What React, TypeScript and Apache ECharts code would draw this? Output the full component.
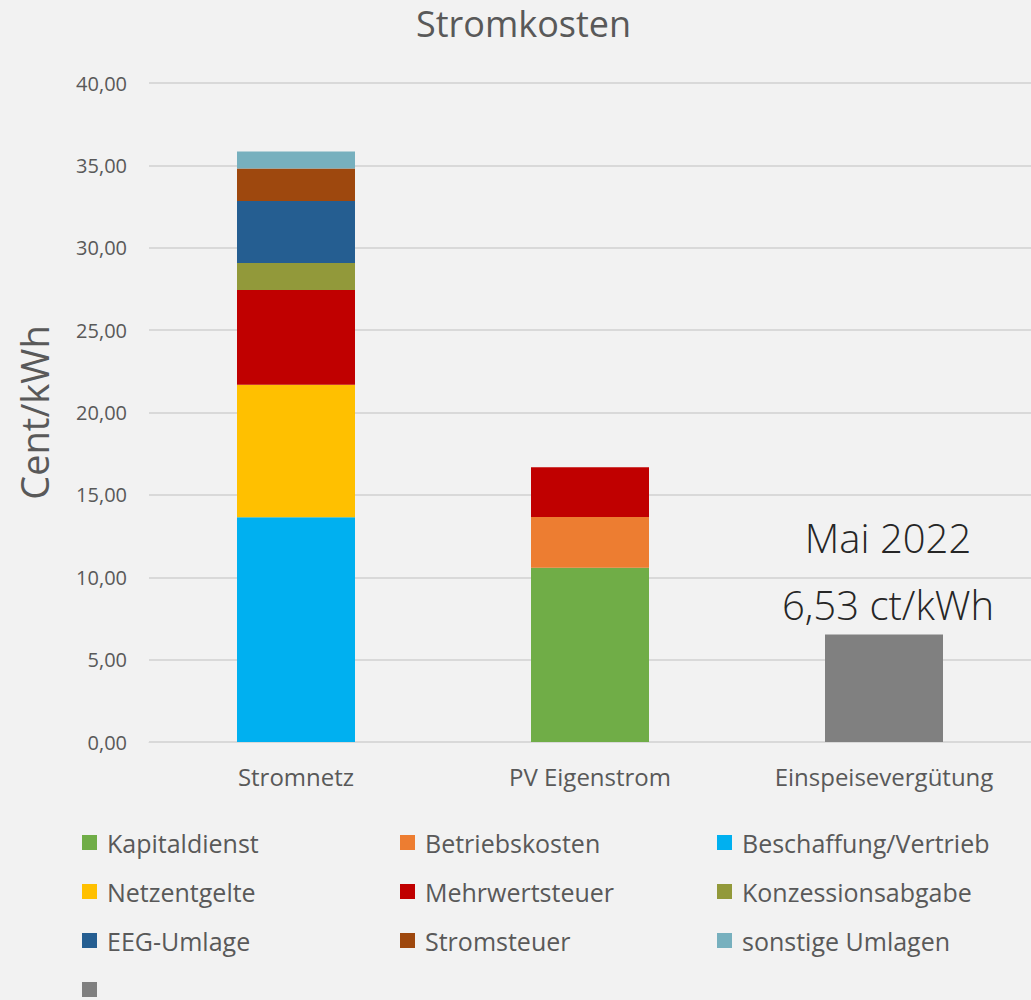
import React, { useEffect, useRef } from "react";
import * as echarts from "echarts";

const categories = ["Stromnetz", "PV Eigenstrom", "Einspeisevergütung"];
const seriesNames = [
  "Kapitaldienst",
  "Betriebskosten",
  "Beschaffung/Vertrieb",
  "Netzentgelte",
  "Mehrwertsteuer",
  "Konzessionsabgabe",
  "EEG-Umlage",
  "Stromsteuer",
  "sonstige Umlagen",
  " ",
];
const kapitaldienst = [null, 10.57, null];
const betriebskosten = [null, 3.09, null];
const beschaffung = [13.64, null, null];
const netzentgelte = [8.05, null, null];
const mehrwertsteuer = [5.74, 3.01, null];
const konzession = [1.64, null, null];
const eeg = [3.77, null, null];
const stromsteuer = [1.97, null, null];
const sonstige = [1.03, null, null];
const einspeisung = [null, null, 6.53];
const annotationTitle = "Mai 2022";
const yTicks = { min: 0, max: 40, interval: 5 };

const seriesData = [
  kapitaldienst,
  betriebskosten,
  beschaffung,
  netzentgelte,
  mehrwertsteuer,
  konzession,
  eeg,
  stromsteuer,
  sonstige,
  einspeisung,
];
const colors = [
  "#70AD47",
  "#ED7D31",
  "#00B0F0",
  "#FFC000",
  "#C00000",
  "#92993A",
  "#255E91",
  "#9E480E",
  "#77B0BE",
  "#808080",
];

const fmt = (v: number) => v.toFixed(2).replace(".", ",");

export default function App() {
  const ref = useRef<HTMLDivElement>(null);
  useEffect(() => {
    if (!ref.current) return;
    const chart = echarts.init(ref.current, null, { renderer: "svg" });
    const font = "'Open Sans', 'Noto Sans', sans-serif";
    const colX = [82, 400, 717];
    const rowY = [830, 879, 928, 977];
    const legends = seriesNames.map((name, i) => ({
      data: [name],
      left: colX[i % 3],
      top: rowY[Math.floor(i / 3)],
      icon: "rect",
      itemWidth: 15,
      itemHeight: 15,
      itemGap: 0,
      padding: 0,
      selectedMode: false,
      textStyle: { fontSize: 25, color: "#595959", fontFamily: font, padding: [0, 0, 0, 5] },
    }));
    const series = seriesNames.map((name, i) => ({
      name,
      type: "bar",
      stack: "total",
      barWidth: 118,
      data: seriesData[i],
      itemStyle: { color: colors[i] },
      label:
        i === seriesNames.length - 1
          ? {
              show: true,
              position: "top",
              distance: -4,
              offset: [4, 0],
              formatter: (p: any) => `{a|${annotationTitle}}\n{a|${fmt(p.value)} ct/kWh}`,
              rich: {
                a: { fontSize: 40, lineHeight: 67, color: "#262626", fontWeight: 300, fontFamily: font },
              },
            }
          : { show: false },
    }));
    chart.setOption({
      animation: false,
      backgroundColor: "#F2F2F2",
      title: {
        text: "Stromkosten",
        left: 411,
        top: 0,
        textStyle: { fontSize: 36, fontWeight: "normal", color: "#595959", fontFamily: font },
      },
      legend: legends,
      grid: { left: 149, right: 0, top: 83, bottom: 258 },
      xAxis: {
        type: "category",
        data: categories,
        axisLine: { lineStyle: { color: "#D9D9D9", width: 1 } },
        axisTick: { show: false },
        axisLabel: { fontSize: 24, color: "#595959", fontFamily: font, margin: 22 },
      },
      yAxis: {
        type: "value",
        min: yTicks.min,
        max: yTicks.max,
        interval: yTicks.interval,
        name: "Cent/kWh",
        nameLocation: "middle",
        nameRotate: 90,
        nameGap: 96,
        nameTextStyle: { fontSize: 38, color: "#595959", fontFamily: font },
        axisLine: { show: false },
        axisTick: { show: false },
        splitLine: { lineStyle: { color: "#D9D9D9", width: 2 } },
        axisLabel: {
          fontSize: 20,
          color: "#595959",
          fontFamily: font,
          margin: 22,
          formatter: (v: number) => fmt(v),
        },
      },
      series,
    });
    return () => chart.dispose();
  }, []);
  return (
    <div
      ref={ref}
      style={{ position: "fixed", left: 0, top: 0, width: 1031, height: 1000, background: "#F2F2F2" }}
    />
  );
}
